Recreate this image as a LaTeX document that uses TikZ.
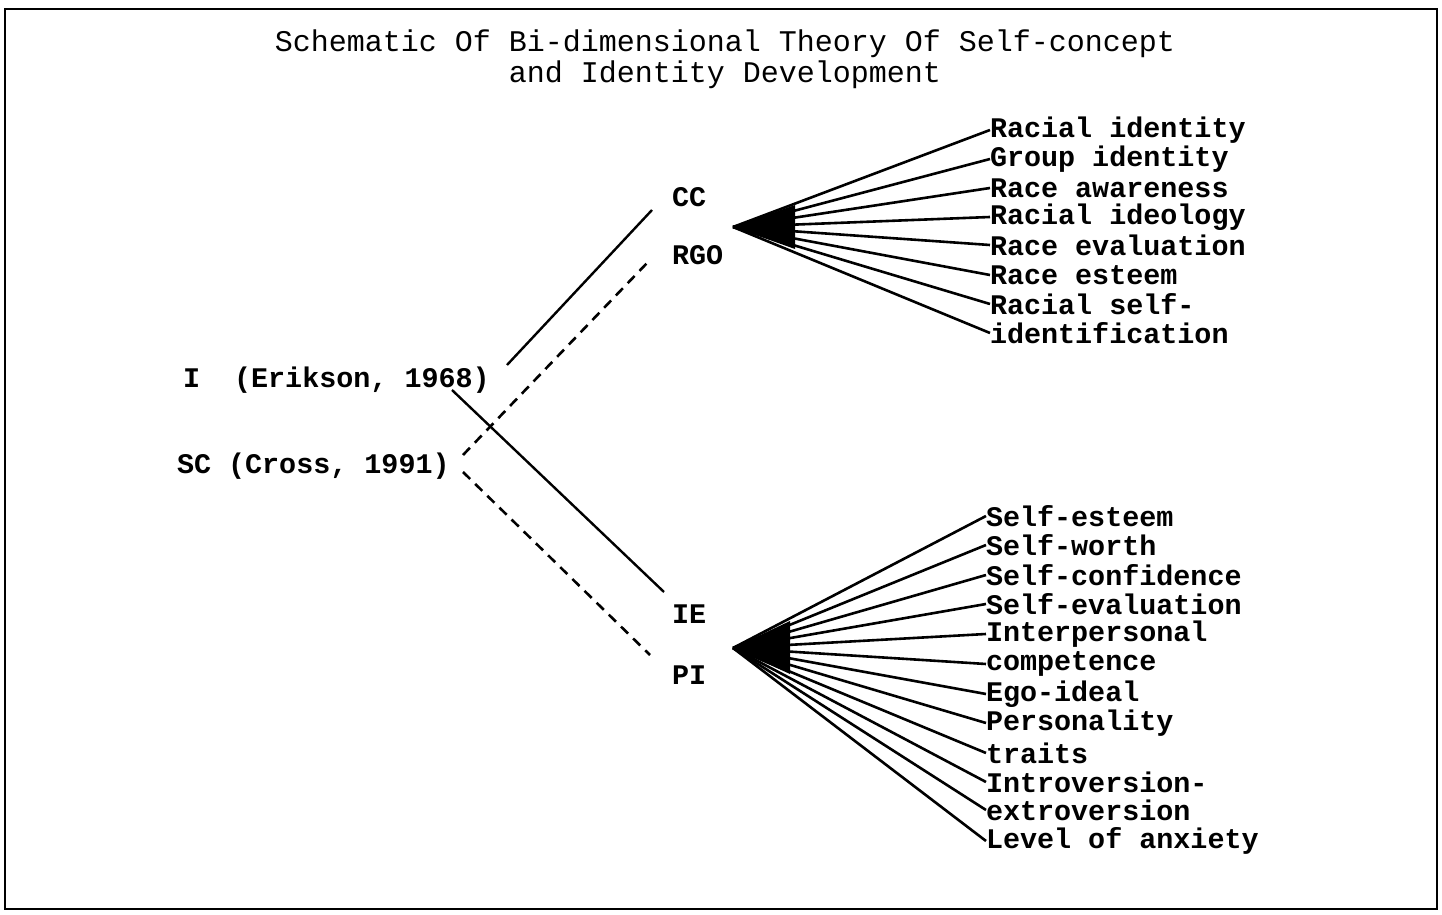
\documentclass[tikz,border=0pt]{standalone}
\usepackage{fontspec}
\setmainfont{Liberation Mono}
\usetikzlibrary{positioning}
\tikzstyle{every node}=[font=\fontsize{14.2}{14.5}\selectfont\bfseries, inner sep=0, outer sep=0, anchor=west]
\tikzstyle{fan}=[line width=1.3pt]
\tikzstyle{link}=[line width=1.2pt]
\tikzstyle{linkdash}=[line width=1.3pt, dash pattern=on 5pt off 3.5pt]

\begin{document}
\begin{tikzpicture}[x=0.5pt,y=-0.5pt]
	\useasboundingbox (0,0) rectangle (1442,915);
	\draw[line width=1pt] (5,9) rectangle (1437,909);
	\node[anchor=center,align=center,font=\fontsize{15}{15.5}\selectfont] (title) at (725,59) {Schematic Of Bi-dimensional Theory Of Self-concept\\and Identity Development};
	% left side
	\node (erik) at (183,380) {I\ \ (Erikson, 1968)};
	\node (cross) at (177,466) {SC (Cross, 1991)};
	\node (cc) at (672,197) {CC};
	\node (rgo) at (672,255) {RGO};
	\node (ie) at (672,614) {IE};
	\node (pi) at (672,675) {PI};
	\coordinate[] (e1) at (507,365);
	\coordinate[] (e2) at (452,390);
	\coordinate[] (s1) at (463,455);
	\coordinate[] (s2) at (463,472);
	\coordinate[] (c1) at (652,210);
	\coordinate[] (r1) at (648,262);
	\coordinate[] (i1) at (664,592);
	\coordinate[] (p1) at (650,655);
	\draw[link] (e1) -- (c1);
	\draw[linkdash] (s1) -- (r1);
	\draw[link] (e2) -- (i1);
	\draw[linkdash] (s2) -- (p1);
	% upper fan
	\coordinate[] (tip1) at (733,227);
	\node (ri) at (990,130) {Racial identity};
	\node (gi) at (990,159) {Group identity};
	\node (ra) at (990,188) {Race awareness};
	\node (rid) at (990,217) {Racial ideology};
	\node (rev) at (990,245) {Race evaluation};
	\node (res) at (990,275) {Race esteem};
	\node (rsi) at (990,304) {Racial self-};
	\node (idf) at (990,333) {identification};
	\fill (tip1) -- (795,205) -- (795,249) -- cycle;
	\draw[fan] (tip1) -- (ri.west);
	\draw[fan] (tip1) -- (gi.west);
	\draw[fan] (tip1) -- (ra.west);
	\draw[fan] (tip1) -- (rid.west);
	\draw[fan] (tip1) -- (rev.west);
	\draw[fan] (tip1) -- (res.west);
	\draw[fan] (tip1) -- (rsi.west);
	\draw[fan] (tip1) -- (idf.west);
	% lower fan
	\coordinate[] (tip2) at (733,648);
	\node (se) at (986,516) {Self-esteem};
	\node (sw) at (986,545) {Self-worth};
	\node (sc) at (986,575) {Self-confidence};
	\node (sev) at (986,604) {Self-evaluation};
	\node (ip) at (986,634) {Interpersonal};
	\node (cp) at (986,664) {competence};
	\node (ego) at (986,694) {Ego-ideal};
	\node (pers) at (986,723) {Personality};
	\node (tr) at (986,753) {traits};
	\node (intr) at (986,782) {Introversion-};
	\node (extr) at (986,810) {extroversion};
	\node (anx) at (986,841) {Level of anxiety};
	\fill (tip2) -- (790,621) -- (790,674) -- cycle;
	\draw[fan] (tip2) -- (se.west);
	\draw[fan] (tip2) -- (sw.west);
	\draw[fan] (tip2) -- (sc.west);
	\draw[fan] (tip2) -- (sev.west);
	\draw[fan] (tip2) -- (ip.west);
	\draw[fan] (tip2) -- (cp.west);
	\draw[fan] (tip2) -- (ego.west);
	\draw[fan] (tip2) -- (pers.west);
	\draw[fan] (tip2) -- (tr.west);
	\draw[fan] (tip2) -- (intr.west);
	\draw[fan] (tip2) -- (extr.west);
	\draw[fan] (tip2) -- (anx.west);
\end{tikzpicture}
\end{document}
